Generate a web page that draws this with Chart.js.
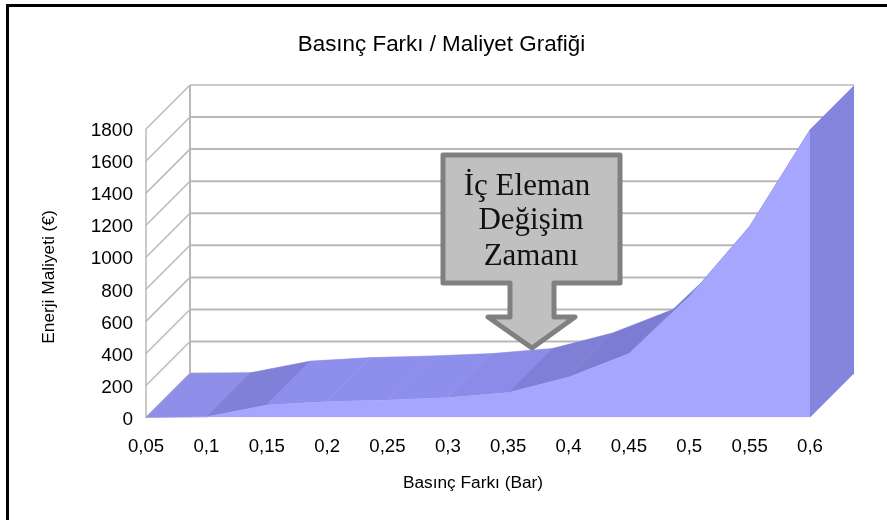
<!DOCTYPE html>
<html>
<head>
<meta charset="utf-8">
<title>Basınç Farkı / Maliyet Grafiği</title>
<script src="https://cdn.jsdelivr.net/npm/chart.js@4"></script>
<style>
  html, body { margin: 0; padding: 0; background: #fff; overflow: hidden; }
  #frame-top { position: absolute; left: 6px; top: 4px; right: 0; height: 3px; background: #000; }
  #frame-left { position: absolute; left: 6px; top: 4px; bottom: 0; width: 3px; background: #000; }
  canvas { position: absolute; left: 0; top: 0; }
</style>
</head>
<body>
<div id="frame-top"></div>
<div id="frame-left"></div>
<canvas id="grafik" width="883" height="520"></canvas>
<script>
const basincFarki = ['0,05', '0,1', '0,15', '0,2', '0,25', '0,3', '0,35', '0,4', '0,45', '0,5', '0,55', '0,6'];
const maliyet = [0, 5, 78, 100, 110, 125, 156, 253, 400, 755, 1193, 1795];
// shade of the top face between two neighbouring points
const ustRenkler = ['#8f8fea', '#8080d8', '#8e8eec', '#8e8eec', '#8e8eec', '#8c8ce8', '#7f7fd6', '#7c7cd2', '#7c7cd2', '#8080d8', '#8080d8'];
const callout = ['İç Eleman', 'Değişim', 'Zamanı'];

const DEPTH = 44;  // 3D offset of the back wall, px
const GRID = '#b8b8b8';

function poly(ctx, pts) {
    ctx.beginPath();
    ctx.moveTo(pts[0][0], pts[0][1]);
    for (let i = 1; i < pts.length; i++) ctx.lineTo(pts[i][0], pts[i][1]);
    ctx.closePath();
}

function cizgi(ctx, x0, y0, x1, y1, w) {
    ctx.lineWidth = w;
    ctx.beginPath();
    ctx.moveTo(x0, y0);
    ctx.lineTo(x1, y1);
    ctx.stroke();
}

// walls, grid and top face go behind the front area
const duvarlar = {
    id: 'duvarlar',
    beforeDatasetsDraw(chart) {
        const ctx = chart.ctx, xs = chart.scales.x, ys = chart.scales.y;
        const l = xs.left, r = xs.right;
        ctx.save();
        ctx.strokeStyle = GRID;
        ys.ticks.forEach(function(t) {
            const y = ys.getPixelForValue(t.value);
            cizgi(ctx, l, y, l + DEPTH, y - DEPTH, 1.5);
            cizgi(ctx, l + DEPTH, y - DEPTH, r + DEPTH, y - DEPTH, t.value === 1800 ? 1.5 : 2);
        });
        cizgi(ctx, l, ys.top, l, ys.bottom, 1.5);
        cizgi(ctx, l + DEPTH, ys.top - DEPTH, l + DEPTH, ys.bottom - DEPTH, 2);

        for (let i = 0; i < maliyet.length - 1; i++) {
            const x0 = xs.getPixelForValue(i), x1 = xs.getPixelForValue(i + 1);
            const y0 = ys.getPixelForValue(maliyet[i]), y1 = ys.getPixelForValue(maliyet[i + 1]);
            poly(ctx, [[x0, y0], [x1, y1], [x1 + DEPTH, y1 - DEPTH], [x0 + DEPTH, y0 - DEPTH]]);
            ctx.fillStyle = ustRenkler[i];
            ctx.strokeStyle = ustRenkler[i];
            ctx.lineWidth = 0.6;
            ctx.fill();
            ctx.stroke();
        }
        ctx.restore();
    },
    afterDatasetsDraw(chart) {
        const ctx = chart.ctx, xs = chart.scales.x, ys = chart.scales.y;
        const n = maliyet.length - 1;
        const x = xs.getPixelForValue(n), top = ys.getPixelForValue(maliyet[n]), bot = ys.getPixelForValue(0);
        ctx.save();
        poly(ctx, [[x, top], [x + DEPTH, top - DEPTH], [x + DEPTH, bot - DEPTH], [x, bot]]);
        ctx.fillStyle = '#8585de';
        ctx.fill();

        // axis titles sit a little off the centre of the plot in the original
        ctx.fillStyle = '#000';
        ctx.font = '17.3px "Liberation Sans"';
        ctx.textAlign = 'center';
        ctx.textBaseline = 'middle';
        ctx.fillText('Basınç Farkı (Bar)', 473, 483);
        ctx.translate(49, 277);
        ctx.rotate(-Math.PI / 2);
        ctx.fillText('Enerji Maliyeti (€)', 0, 0);
        ctx.restore();

        // callout arrow
        ctx.save();
        ctx.beginPath();
        ctx.moveTo(443, 155);
        ctx.lineTo(620, 155);
        ctx.lineTo(620, 283);
        ctx.lineTo(554, 283);
        ctx.lineTo(554, 317);
        ctx.lineTo(575, 317);
        ctx.lineTo(532, 348);
        ctx.lineTo(488, 317);
        ctx.lineTo(510, 317);
        ctx.lineTo(510, 283);
        ctx.lineTo(443, 283);
        ctx.closePath();
        ctx.fillStyle = '#c0c0c0';
        ctx.fill();
        ctx.strokeStyle = '#808080';
        ctx.lineWidth = 5;
        ctx.lineJoin = 'round';
        ctx.stroke();
        ctx.fillStyle = '#111';
        ctx.font = '31px "Liberation Serif"';
        ctx.textAlign = 'center';
        ctx.fillText(callout[0], 527, 195);
        ctx.fillText(callout[1], 531, 229);
        ctx.fillText(callout[2], 531, 265);
        ctx.restore();
    }
};

new Chart(document.getElementById('grafik'), {
    type: 'line',
    data: {
        labels: basincFarki,
        datasets: [{
            label: 'Enerji Maliyeti (€)',
            data: maliyet,
            fill: 'origin',
            backgroundColor: '#a6a6ff',
            borderWidth: 0,
            pointRadius: 0,
            tension: 0
        }]
    },
    options: {
        responsive: false,
        animation: false,
        plugins: {
            legend: { display: false },
            tooltip: { enabled: false },
            title: {
                display: true,
                text: 'Basınç Farkı / Maliyet Grafiği',
                color: '#000',
                font: { family: '"Liberation Sans"', size: 22.4, weight: 'normal' },
                padding: { top: 31, bottom: 71.1 }
            }
        },
        scales: {
            x: {
                grid: { display: false, drawTicks: false },
                border: { display: false },
                ticks: {
                    color: '#000',
                    font: { family: '"Liberation Sans"', size: 18.6 },
                    autoSkip: false,
                    maxRotation: 0,
                    padding: 18
                },
                afterFit(s) { s.height = 102.4; s.paddingLeft = 0; s.paddingRight = 73; }
            },
            y: {
                min: 0,
                max: 1800,
                grid: { display: false, drawTicks: false },
                border: { display: false },
                ticks: {
                    stepSize: 200,
                    color: '#000',
                    font: { family: '"Liberation Sans"', size: 19 },
                    padding: 13,
                    labelOffset: 2,
                    callback: function(v) { return String(v); }
                },
                afterFit(s) { s.width = 146; s.paddingTop = 0; s.paddingBottom = 0; }
            }
        }
    },
    plugins: [duvarlar]
});
</script>
</body>
</html>
